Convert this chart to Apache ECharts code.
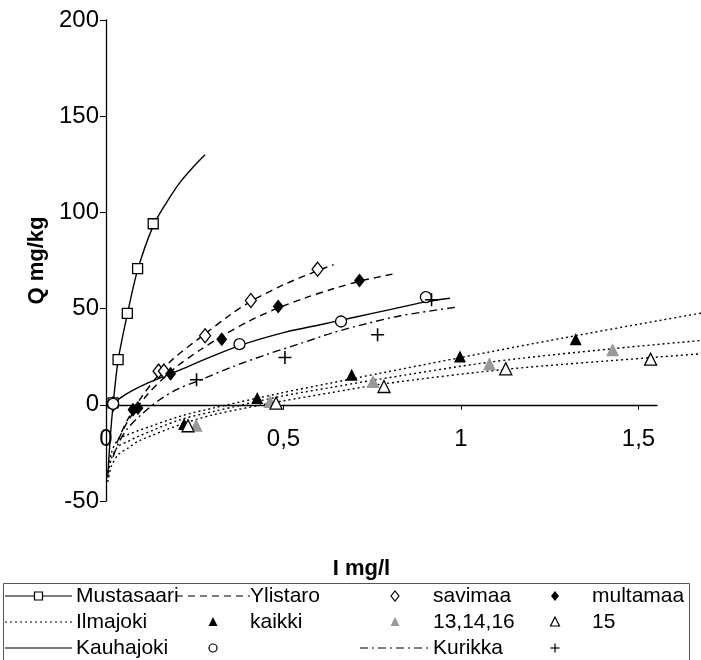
<!DOCTYPE html>
<html><head><meta charset="utf-8">
<script src="https://cdn.jsdelivr.net/npm/echarts@6/dist/echarts.min.js"></script>
<style>html,body{margin:0;padding:0;background:#fff}#c{width:701px;height:660px}</style>
</head><body><div id="c"></div>
<script>
// ---- data ----
const xTicks = [0, 0.5, 1, 1.5];
const mustasaariCurve = [[0.005,-37],[0.012,-17],[0.02,0],[0.034,23],[0.06,47],[0.089,70],[0.133,93],[0.17,105],[0.208,115.5],[0.245,123.5],[0.279,130]];
const mustasaariPts = [[0.02,1],[0.034,23.5],[0.060,47.5],[0.089,70.8],[0.133,94.1]];
const savimaaCurve = [[0.03,-20],[0.06,-8],[0.1,4],[0.15,16],[0.19,24],[0.28,37],[0.35,46.8],[0.41,54],[0.5,62.4],[0.6,70],[0.641,72.8]];
const savimaaPts = [[0.02,0.5],[0.148,17.5],[0.163,17.5],[0.279,35.9],[0.408,54.2],[0.596,70.5]];
const multamaaCurve = [[0.035,-18],[0.06,-9],[0.085,-2],[0.12,6],[0.16,13.5],[0.2,20],[0.265,28.5],[0.33,36],[0.4,43.2],[0.48,50],[0.565,55.8],[0.64,60.3],[0.72,64.5],[0.819,68.4]];
const multamaaPts = [[0.02,0],[0.076,-2.6],[0.09,-1.7],[0.182,16.2],[0.326,34.1],[0.485,51.1],[0.714,64.6]];
const kaikkiCurve = [[0.005,-35],[0.015,-25],[0.034,-18],[0.062,-15.5],[0.09,-13.5],[0.208,-6],[0.302,-1.7],[0.49,6],[0.63,11.2],[0.77,16.3],[1.0,24.6],[1.29,34.8],[1.57,44.2],[1.676,47.6]];
const kaikkiPts = [[0.22,-10],[0.426,3.5],[0.692,15.6],[0.997,25.1],[1.323,34.1]];
const g131416Curve = [[0.005,-38],[0.015,-28],[0.034,-21.7],[0.062,-19],[0.09,-16.5],[0.208,-7.8],[0.302,-3.5],[0.49,4.3],[0.631,8.9],[0.753,12.8],[1.082,22.2],[1.429,29.2],[1.676,33.4]];
const g131416Pts = [[0.254,-10.6],[0.462,1.7],[0.752,12.1],[1.08,21.3],[1.427,28.6]];
const g15Curve = [[0.005,-40],[0.015,-32],[0.034,-26],[0.062,-22.5],[0.09,-19],[0.208,-10.4],[0.302,-5.2],[0.49,1.7],[0.631,6.2],[0.786,11],[1.129,18.5],[1.532,24.5],[1.676,26.5]];
const g15Pts = [[0.231,-10.9],[0.479,0.9],[0.783,9.5],[1.126,18.7],[1.534,23.7]];
const kauhajokiCurve = [[0.018,0],[0.04,3.5],[0.07,7],[0.12,11.5],[0.2,17.5],[0.29,24.5],[0.38,31],[0.5,37.5],[0.6,41.5],[0.7,45.5],[0.8,49.5],[0.9,53.5],[0.969,55.4]];
const kauhajokiPts = [[0.02,0.5],[0.376,31.5],[0.662,43.3],[0.901,56]];
const kurikkaCurve = [[0.02,-27],[0.035,-20],[0.06,-12.5],[0.1,-5],[0.15,2.5],[0.2,8],[0.26,12.5],[0.36,20],[0.45,26],[0.55,32],[0.64,37.5],[0.73,42],[0.83,46.3],[0.988,50.8]];
const kurikkaPts = [[0.255,13],[0.504,24.6],[0.765,36.4],[0.917,54.6]];
const legendRows = [
  ['Mustasaari','Ylistaro','savimaa','multamaa'],
  ['Ilmajoki','kaikki','13,14,16','15'],
  ['Kauhajoki','','Kurikka','']
];
const xName = 'I mg/l';
const yName = 'Q mg/kg';

// ---- styles ----
const FONT = '"Liberation Sans", Arial, sans-serif';
const DASH = [7,5], DOT = [2,3], DASHDOT = [8,4,2,4];
const PLUS = 'path://M4.4,0h1.2v10h-1.2z M0,4.4h10v1.2h-10z';
// main grid: x axis drawn 0..1.552; wide grid (same px/unit) lets the Ilmajoki curves run on to the page edge
function curve(name, data, type, wide) {
  return {name, type:'line', data, symbol:'none', smooth:0.3, clip:true,
    xAxisIndex: wide ? 1 : 0, yAxisIndex: wide ? 1 : 0,
    lineStyle:{color:'#000', width:1.4, type}, z:2, silent:true};
}
function pts(name, data, symbol, size, fill, stroke) {
  return {name, type:'scatter', data, symbol, symbolSize:size, clip:false,
    itemStyle:{color:fill, borderColor:stroke, borderWidth: stroke ? 1.3 : 0, opacity:1}, z:5, silent:true};
}
const series = [
  curve('Mustasaari', mustasaariCurve, 'solid'),
  curve('Ylistaro savimaa', savimaaCurve, DASH),
  curve('Ylistaro multamaa', multamaaCurve, DASH),
  curve('Ilmajoki kaikki', kaikkiCurve, DOT, true),
  curve('Ilmajoki 13,14,16', g131416Curve, DOT, true),
  curve('Ilmajoki 15', g15Curve, DOT, true),
  curve('Kauhajoki', kauhajokiCurve, 'solid'),
  curve('Kurikka', kurikkaCurve, DASHDOT),
  pts('Mustasaari pts', mustasaariPts, 'rect', 10, '#fff', '#000'),
  pts('savimaa', savimaaPts, 'diamond', [11,14], '#fff', '#000'),
  pts('multamaa', multamaaPts, 'diamond', [11,14], '#000', null),
  pts('kaikki', kaikkiPts, 'triangle', [12,12], '#000', null),
  pts('13,14,16', g131416Pts, 'triangle', [13,13], '#999', null),
  pts('15', g15Pts, 'triangle', [12,12], '#fff', '#000'),
  pts('Kauhajoki pts', kauhajokiPts, 'circle', 11, '#fff', '#000'),
  pts('Kurikka pts', kurikkaPts, PLUS, 13, '#000', null)
];

// ---- legend drawn as graphic ----
const iconX = [[5,72],[176,250],[360,430],[520,590]];
const textX = [76, 250, 433, 592];
const rowY = [596, 622, 648];
const legendIcons = [
  [{line:'solid', sym:'rect'}, {line:DASH}, {sym:'odiamond'}, {sym:'fdiamond'}],
  [{line:DOT}, {sym:'ftri'}, {sym:'gtri'}, {sym:'otri'}],
  [{line:'solid'}, {sym:'circle'}, {line:DASHDOT}, {sym:'plus'}]
];
const graphics = [{type:'rect', shape:{x:3.5, y:583.5, width:686, height:90}, style:{fill:'none', stroke:'#555', lineWidth:1}, silent:true}];
function symbolEl(kind, cx, cy) {
  const s = 4.5;
  switch(kind) {
    case 'rect': return {type:'rect', shape:{x:cx-4, y:cy-4, width:8, height:8}, style:{fill:'#fff', stroke:'#000', lineWidth:1.2}};
    case 'odiamond': return {type:'polygon', shape:{points:[[cx,cy-5],[cx+4,cy],[cx,cy+5],[cx-4,cy]]}, style:{fill:'#fff', stroke:'#000', lineWidth:1.2}};
    case 'fdiamond': return {type:'polygon', shape:{points:[[cx,cy-5],[cx+4,cy],[cx,cy+5],[cx-4,cy]]}, style:{fill:'#000'}};
    case 'ftri': return {type:'polygon', shape:{points:[[cx,cy-5],[cx+4.5,cy+4],[cx-4.5,cy+4]]}, style:{fill:'#000'}};
    case 'gtri': return {type:'polygon', shape:{points:[[cx,cy-5],[cx+4.5,cy+4],[cx-4.5,cy+4]]}, style:{fill:'#999'}};
    case 'otri': return {type:'polygon', shape:{points:[[cx,cy-5],[cx+4.5,cy+4],[cx-4.5,cy+4]]}, style:{fill:'#fff', stroke:'#000', lineWidth:1.2}};
    case 'circle': return {type:'circle', shape:{cx, cy, r:4}, style:{fill:'#fff', stroke:'#000', lineWidth:1.2}};
    case 'plus': return {type:'group', children:[
      {type:'line', shape:{x1:cx-s, y1:cy, x2:cx+s, y2:cy}, style:{stroke:'#000', lineWidth:1.2}},
      {type:'line', shape:{x1:cx, y1:cy-s, x2:cx, y2:cy+s}, style:{stroke:'#000', lineWidth:1.2}}]};
  }
}
legendRows.forEach((row, r) => {
  row.forEach((label, c) => {
    const [a, b] = iconX[c], y = rowY[r], ic = legendIcons[r][c];
    if (ic.line) graphics.push({type:'line', shape:{x1:a, y1:y, x2:b, y2:y}, style:{stroke:'#000', lineWidth:1.2, lineDash: ic.line === 'solid' ? null : ic.line}, silent:true});
    if (ic.sym) { const el = symbolEl(ic.sym, (a+b)/2, y); el.silent = true; graphics.push(el); }
    if (label) graphics.push({type:'text', x:textX[c], y:y, style:{text:label, font:'21px ' + FONT, fill:'#000', verticalAlign:'middle', align:'left'}, silent:true});
  });
});

const chart = echarts.init(document.getElementById('c'), null, {renderer:'canvas'});
chart.setOption({
  animation:false,
  backgroundColor:'#fff',
  grid:[
    {left:106, top:20, width:551, height:481, containLabel:false, outerBoundsMode:'none'},
    {left:106, top:20, width:595, height:481, containLabel:false, outerBoundsMode:'none'}
  ],
  xAxis:[{gridIndex:0, type:'value', min:0, max:1.552, interval:0.5,
    name:xName, nameLocation:'middle', nameGap:57,
    nameTextStyle:{fontFamily:FONT, fontSize:22, fontWeight:'bold', color:'#000', padding:[0,40,0,0]},
    axisLine:{onZero:true, lineStyle:{color:'#000', width:1.3}},
    axisTick:{show:true, inside:false, length:5, customValues:xTicks, lineStyle:{color:'#000'}},
    axisLabel:{customValues:xTicks, margin:-74, fontFamily:FONT, fontSize:24, color:'#000',
      formatter:v => String(v).replace('.', ',')},
    splitLine:{show:false}},
    {gridIndex:1, type:'value', min:0, max:1.676, show:false}],
  yAxis:[{gridIndex:0, type:'value', min:-50, max:200, interval:50,
    name:yName, nameLocation:'middle', nameGap:32, nameRotate:90,
    nameTextStyle:{fontFamily:FONT, fontSize:22, fontWeight:'bold', color:'#000'},
    axisLine:{show:true, onZero:false, lineStyle:{color:'#000', width:1.3}},
    axisTick:{show:true, length:6, lineStyle:{color:'#000'}},
    axisLabel:{margin:7, fontFamily:FONT, fontSize:24, color:'#000'},
    splitLine:{show:false}},
    {gridIndex:1, type:'value', min:-50, max:200, interval:50, show:false}],
  series,
  graphic: graphics
});
</script></body></html>
